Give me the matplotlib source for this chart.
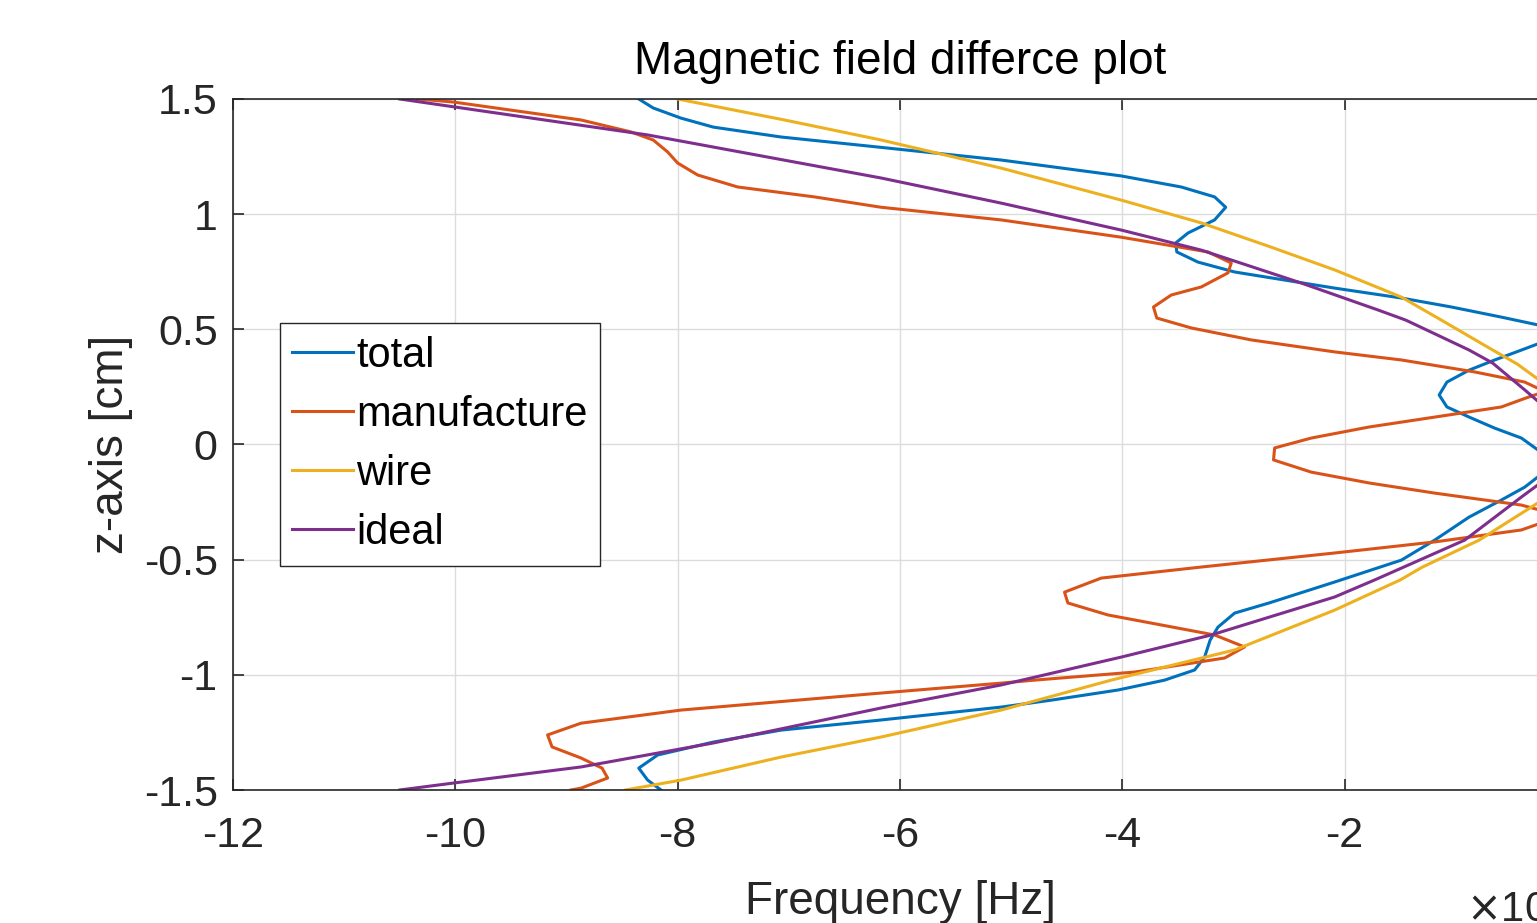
import matplotlib
matplotlib.use('Agg')
import matplotlib.pyplot as plt

# ----------- data (x in units of the cut-off 10^n) -----------
total_z = [1.5, 1.461, 1.417, 1.378, 1.335, 1.29, 1.235, 1.166, 1.118, 1.075, 1.03,
           0.975, 0.918, 0.875, 0.836, 0.792, 0.749, 0.714, 0.679, 0.636, 0.597,
           0.553, 0.518, 0.47, 0.41, 0.367, 0.323, 0.271, 0.215, 0.163, 0.119,
           0.071, 0.028, -0.08, -0.185, -0.241, -0.315, -0.415, -0.502, -0.597,
           -0.688, -0.732, -0.793, -0.849, -0.923, -0.979, -1.023, -1.066, -1.11,
           -1.14, -1.196, -1.24, -1.292, -1.348, -1.405, -1.457, -1.5]
total_f = [-8.35, -8.22, -7.97, -7.68, -7.07, -6.17, -5.09, -4.01, -3.47, -3.17, -3.07,
           -3.17, -3.41, -3.52, -3.51, -3.32, -2.99, -2.54, -2.09, -1.49, -1.04,
           -0.59, -0.25, -0.08, -0.41, -0.65, -0.88, -1.08, -1.15, -1.08, -0.88,
           -0.65, -0.41, -0.1, -0.38, -0.59, -0.88, -1.19, -1.49, -2.09,
           -2.68, -2.99, -3.14, -3.21, -3.26, -3.35, -3.62, -4.04, -4.64,
           -5.09, -6.17, -7.07, -7.68, -8.18, -8.35, -8.27, -8.15]

manuf_z = [1.5, 1.487, 1.409, 1.357, 1.322, 1.27, 1.222, 1.17, 1.118, 1.075, 1.03,
           0.975, 0.90, 0.836, 0.788, 0.745, 0.684, 0.649, 0.597, 0.549, 0.506,
           0.454, 0.402, 0.367, 0.315, 0.271, 0.23, 0.20, 0.163, 0.119, 0.076,
           0.028, -0.015, -0.067, -0.12, -0.167, -0.211, -0.263, -0.31, -0.371,
           -0.423, -0.471, -0.532, -0.58, -0.641, -0.688, -0.74, -0.827, -0.879,
           -0.927, -0.988, -1.023, -1.036, -1.079, -1.153, -1.21, -1.261, -1.313,
           -1.361, -1.405, -1.448, -1.492, -1.5]
manuf_f = [-10.34, -10.02, -8.87, -8.42, -8.22, -8.09, -8.0, -7.82, -7.46, -6.77, -6.17,
           -5.09, -4.01, -3.23, -3.02, -3.05, -3.29, -3.56, -3.72, -3.69, -3.38,
           -2.84, -2.09, -1.49, -0.83, -0.38, -0.2, -0.38, -0.59, -1.19, -1.78,
           -2.3, -2.63, -2.64, -2.3, -1.78, -1.19, -0.41, -0.05, -0.41,
           -1.19, -2.09, -3.29, -4.19, -4.52, -4.49, -4.13, -3.17, -2.9,
           -3.08, -3.89, -4.79, -5.09, -6.17, -7.97, -8.87, -9.17, -9.13,
           -8.87, -8.68, -8.63, -8.87, -8.96]

wire_z = [1.5, 1.41, 1.322, 1.2, 1.061, 0.962, 0.86, 0.758, 0.64, 0.54, 0.419, 0.35,
          0.28, 0.1, -0.1, -0.25, -0.415, -0.532, -0.588, -0.719, -0.892, -1.023,
          -1.153, -1.27, -1.357, -1.457, -1.5]
wire_f = [-8.0, -7.05, -6.17, -5.09, -4.01, -3.29, -2.68, -2.09, -1.49, -1.13, -0.70, -0.45,
          -0.25, -0.02, -0.02, -0.25, -0.79, -1.3, -1.5, -2.09, -2.99, -4.1,
          -5.09, -6.17, -7.07, -7.97, -8.47]

ideal_z = [1.5, 1.344, 1.157, 1.048, 0.931, 0.844, 0.701, 0.584, 0.54, 0.41, 0.354,
           0.237, 0.1, -0.1, -0.228, -0.415, -0.588, -0.662, -0.827, -0.923, -1.044,
           -1.144, -1.296, -1.40, -1.47, -1.5]
ideal_f = [-10.5, -8.27, -6.17, -5.09, -4.01, -3.29, -2.39, -1.7, -1.45, -0.88, -0.67,
           -0.38, -0.05, -0.05, -0.41, -0.92, -1.73, -2.09, -3.2, -4.01, -5.09,
           -6.17, -7.68, -8.87, -10.02, -10.5]

series = [('total', total_f, total_z, '#0072BD'),
          ('manufacture', manuf_f, manuf_z, '#D95319'),
          ('wire', wire_f, wire_z, '#EDB120'),
          ('ideal', ideal_f, ideal_z, '#7E2F8E')]

x_ticks = [-12, -10, -8, -6, -4, -2]
y_ticks = [-1.5, -1, -0.5, 0, 0.5, 1, 1.5]
y_labels = ['-1.5', '-1', '-0.5', '0', '0.5', '1', '1.5']

# ----------- style -----------
plt.rcParams['font.family'] = ['Liberation Sans', 'DejaVu Sans']
plt.rcParams['axes.unicode_minus'] = False
dark = '#262626'

fig = plt.figure(figsize=(15.37, 9.23), dpi=100)
# axes runs past the right edge of the picture, like the cropped reference
ax = fig.add_axes([233 / 1537, 133 / 923, 1334 / 1537, 691 / 923])

for name, f, z, c in series:
    ax.plot(f, z, color=c, lw=2.2, label=name)

ax.set_xlim(-12, 0)
ax.set_ylim(-1.5, 1.5)
ax.set_xticks(x_ticks)
ax.set_xticklabels([str(t) for t in x_ticks])
ax.set_yticks(y_ticks)
ax.set_yticklabels(y_labels)
ax.grid(True, color='#dcdcdc', lw=1.0)
ax.set_axisbelow(True)
ax.tick_params(direction='in', length=8, width=1.2, colors=dark,
               top=True, right=True)
ax.tick_params(axis='x', labelsize=31, pad=19)
ax.tick_params(axis='y', labelsize=31, pad=11)
for s in ax.spines.values():
    s.set_color(dark)
    s.set_linewidth(1.2)

ax.set_title('Magnetic field differce plot', fontsize=33, color='black', pad=18)
ax.set_xlabel('Frequency [Hz]', fontsize=33, color=dark)
ax.set_ylabel('z-axis [cm]', fontsize=33, color=dark)
ax.xaxis.set_label_coords(0.5, -0.13)
ax.yaxis.set_label_coords(-0.075, 0.5)

leg = ax.legend(loc='upper left', bbox_to_anchor=(0.0352, 0.6758), borderaxespad=0,
                fontsize=30, fancybox=False, framealpha=1, edgecolor=dark,
                handlelength=1.45, handletextpad=0.08, labelspacing=0.46,
                borderpad=0.3)
leg.get_frame().set_linewidth(1.0)

fig.text(1466 / 1537, 1 - 910 / 923, r'$\times$10$^{-3}$', fontsize=30, color=dark,
         va='center', ha='left')

plt.savefig('out.png', dpi=100)
plt.close()
